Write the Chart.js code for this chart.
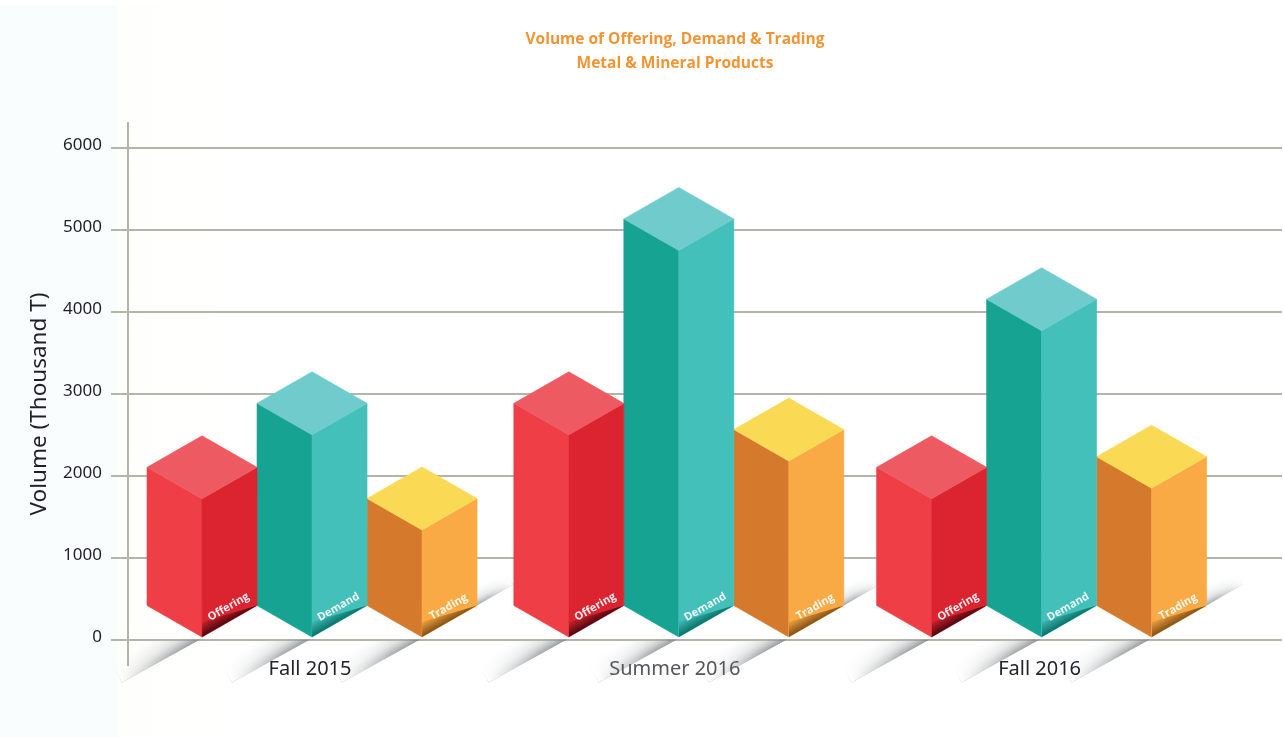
<!DOCTYPE html>
<html>
<head>
<meta charset="utf-8">
<style>html,body{margin:0;padding:0;background:#fff}canvas{display:block}</style>
<script src="https://cdn.jsdelivr.net/npm/chart.js@4/dist/chart.umd.min.js"></script>
</head>
<body>
<canvas id="c" width="1284" height="742"></canvas>
<script>
const categories = ['Fall 2015', 'Summer 2016', 'Fall 2016'];
const seriesNames = ['Offering', 'Demand', 'Trading'];
const offeringValues = [2100, 2880, 2100];
const demandValues = [2880, 5130, 4150];
const tradingValues = [1720, 2560, 2230];
const yTickValues = [0, 1000, 2000, 3000, 4000, 5000, 6000];
const titleLines = ['Volume of Offering, Demand & Trading', 'Metal & Mineral Products'];
const yAxisTitle = 'Volume (Thousand T)';

const faces = [
  {top:'#ee5a62', left:'#ef3e45', right:'#dc2431', dark:'70,5,12'},
  {top:'#6fcbcc', left:'#16a392', right:'#44c0bb', dark:'5,110,100'},
  {top:'#fada55', left:'#d57a2c', right:'#faaa44', dark:'125,75,20'}
];
const RISE = 31.5;
const groupNudge = [0, 2, 0];

function poly(ctx, pts, fill){
  ctx.beginPath();
  pts.forEach((p,i)=> i ? ctx.lineTo(p[0],p[1]) : ctx.moveTo(p[0],p[1]));
  ctx.closePath();
  ctx.fillStyle = fill;
  ctx.fill();
  ctx.strokeStyle = fill;
  ctx.lineWidth = 0.6;
  ctx.stroke();
}

const shadowLayer = document.createElement('canvas');
shadowLayer.width = 1284; shadowLayer.height = 742;

function wedgeShadow(ctx, ax, ay, ex, ey, spread, strength, clipTop){
  const dx = ex-ax, dy = ey-ay, len = Math.hypot(dx,dy);
  let sx = dy/len, sy = -dx/len;
  if(sy > 0){ sx = -sx; sy = -sy; }
  const px = ax+sx*spread, py = ay+sy*spread;
  const o = shadowLayer.getContext('2d');
  o.save();
  o.globalCompositeOperation = 'source-over';
  o.clearRect(0,0,1284,742);
  if(clipTop !== null){ o.beginPath(); o.rect(0,clipTop,1284,742-clipTop); o.clip(); }
  o.beginPath();
  o.moveTo(ax,ay); o.lineTo(ex,ey); o.lineTo(ex+sx*spread,ey+sy*spread); o.lineTo(px,py);
  o.closePath(); o.clip();
  const g = o.createLinearGradient(ax,ay,px,py);
  g.addColorStop(0,'rgba(125,130,132,'+strength+')');
  g.addColorStop(0.4,'rgba(165,170,172,'+(strength*0.45)+')');
  g.addColorStop(1,'rgba(200,204,206,0)');
  o.fillStyle = g; o.fillRect(0,0,1284,742);
  o.globalCompositeOperation = 'destination-in';
  const w = o.createLinearGradient(ax,ay,ex,ey);
  w.addColorStop(0,'rgba(0,0,0,1)');
  w.addColorStop(0.35,'rgba(0,0,0,0.8)');
  w.addColorStop(1,'rgba(0,0,0,0)');
  o.fillStyle = w; o.fillRect(0,0,1284,742);
  o.restore();
  ctx.drawImage(shadowLayer,0,0);
}

class IsoBarController extends Chart.BarController {
  draw(){
    const ctx = this.chart.ctx, meta = this.getMeta();
    const c = faces[this.index];
    const name = this.getDataset().label;
    meta.data.forEach((el,i)=>{
      const hw = el.width/2, x = el.x + groupNudge[i], y = el.y, b = el.base - 1.5;
      poly(ctx, [[x-hw,y],[x,y+RISE],[x,b],[x-hw,b-RISE]], c.left);
      poly(ctx, [[x,y+RISE],[x+hw,y],[x+hw,b-RISE],[x,b]], c.right);
      poly(ctx, [[x-hw,y],[x,y-RISE],[x+hw,y],[x,y+RISE]], c.top);
      ctx.save();
      ctx.beginPath(); ctx.moveTo(x,b); ctx.lineTo(x+hw,b-RISE); ctx.lineTo(x,b-15); ctx.closePath(); ctx.clip();
      const gg = ctx.createLinearGradient(x+8,b-4.5,x+1,b-17);
      gg.addColorStop(0,'rgba('+c.dark+',0.95)');
      gg.addColorStop(1,'rgba('+c.dark+',0)');
      ctx.fillStyle = gg; ctx.fillRect(x,b-40,hw,42);
      ctx.restore();
      ctx.save();
      ctx.translate(x+26.5, b-30);
      ctx.rotate(-Math.atan2(RISE,hw));
      ctx.font = 'bold 11px "Open Sans"';
      ctx.fillStyle = 'rgba(255,255,255,0.92)';
      ctx.textAlign = 'center'; ctx.textBaseline = 'middle';
      ctx.fillText(name,0,0);
      ctx.restore();
    });
  }
}
IsoBarController.id = 'isoBar';
IsoBarController.defaults = Chart.BarController.defaults;
IsoBarController.overrides = Chart.BarController.overrides;
Chart.register(IsoBarController);

function shiftDraw(scale, method, dx, dy){
  const orig = scale[method];
  scale[method] = function(a){
    const ctx = this.ctx;
    ctx.save(); ctx.translate(dx,dy);
    orig.call(this,a);
    ctx.restore();
  };
}

const paperPlugin = {
  id:'paper',
  afterLayout(chart){
    chart.titleBlock.left += 34;
    chart.titleBlock.right += 34;
    if(!chart.$shifted){
      chart.$shifted = true;
      shiftDraw(chart.scales.y,'drawTitle',0,10);
      shiftDraw(chart.scales.y,'drawLabels',0,-2);
      shiftDraw(chart.scales.x,'drawLabels',-2,0);
      chart.scales.x._computeLabelArea = function(){ return undefined; };
    }
  },
  beforeDraw(chart){
    const ctx = chart.ctx;
    ctx.save();
    ctx.fillStyle = '#ffffff'; ctx.fillRect(0,0,1284,742);
    ctx.fillStyle = '#fafdfe'; ctx.fillRect(0,5,117,732);
    const g = ctx.createLinearGradient(117,0,240,0);
    g.addColorStop(0,'#fefefb'); g.addColorStop(1,'#ffffff');
    ctx.fillStyle = g; ctx.fillRect(117,5,123,732);
    ctx.restore();
  }
};
const shadowPlugin = {
  id:'groundShadows',
  beforeDatasetsDraw(chart){
    const ctx = chart.ctx;
    chart.data.datasets.forEach((ds,di)=>{
      chart.getDatasetMeta(di).data.forEach((el,i)=>{
        const x = el.x + groupNudge[i], b = el.base;
        wedgeShadow(ctx, x-1, b+0.5, x-80, b+44, 24, 0.85, b+1);
        if(di === 2) wedgeShadow(ctx, x+el.width/2, b-33, x+el.width/2+36, b-54, 16, 0.7, null);
      });
    });
  }
};

const toPoints = vals => vals.map((v,i)=>({x:i,y:v}));
const seriesValues = [offeringValues, demandValues, tradingValues];

new Chart(document.getElementById('c'), {
  type:'isoBar',
  plugins:[paperPlugin, shadowPlugin],
  data:{
    datasets: seriesNames.map((n,i)=>({
      label:n,
      data:toPoints(seriesValues[i]),
      backgroundColor:faces[i].left,
      barThickness:110,
      categoryPercentage:1,
      barPercentage:1
    }))
  },
  options:{
    responsive:false,
    animation:false,
    layout:{padding:{left:0,right:2,top:0,bottom:0}},
    plugins:{
      legend:{display:false},
      tooltip:{enabled:false},
      title:{
        display:true,
        text:titleLines,
        color:'#f39433',
        font:{family:'"Open Sans"',size:15.5,weight:'bold',lineHeight:1.55},
        padding:{top:28,bottom:47}
      }
    },
    scales:{
      x:{
        type:'linear',
        offset:false,
        min:-0.5045,
        max:2.659,
        afterBuildTicks(s){ s.ticks = categories.map((_,i)=>({value:i})); },
        afterFit(s){ s.height = 77; },
        grid:{display:false},
        border:{display:false},
        ticks:{
          z:1,
          autoSkip:false,
          maxRotation:0,
          padding:-16,
          font:{family:'"Noto Sans"',size:20},
          color:c=>['#23232b','#55565c','#23232b'][c.index],
          callback:v=>categories[v]
        }
      },
      y:{
        min:-311,
        max:6299,
        afterBuildTicks(s){ s.ticks = yTickValues.map(v=>({value:v})); },
        afterFit(s){ s.width = 128; },
        grid:{color:'#b4b4aa',lineWidth:2,tickLength:17,tickColor:'#b4b4aa'},
        border:{color:'#b4b4aa',width:2},
        title:{
          display:true,
          text:yAxisTitle,
          color:'#1f1f25',
          font:{family:'"Noto Sans"',size:22.5},
          padding:{top:26,bottom:0}
        },
        ticks:{
          padding:9,
          font:{family:'"Noto Sans"',size:17},
          color:'#1f1f25',
          callback:v=>String(v)
        }
      }
    }
  }
});
</script>
</body>
</html>
